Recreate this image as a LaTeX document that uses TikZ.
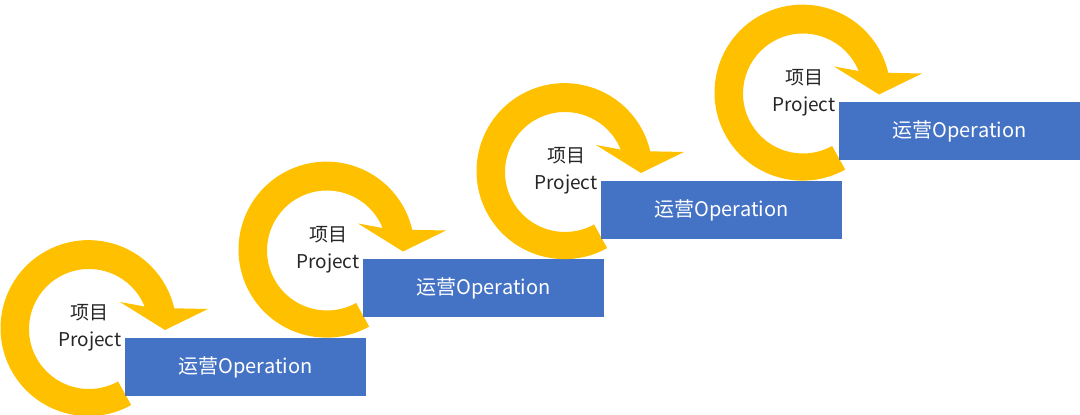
\documentclass[tikz,border=0pt]{standalone}
\usepackage{fontspec}
\setmainfont{Noto Sans CJK SC}
\usepackage{tikz}
\definecolor{ringyellow}{HTML}{FFC000}
\definecolor{opblue}{HTML}{4472C4}

\begin{document}
\begin{tikzpicture}[x=0.5pt,y=0.5pt,
   ring/.style={fill=ringyellow,draw=none},
   projtext/.style={align=center,text=black!85,font=\fontsize{9.5}{13.5}\selectfont},
   opbox/.style={fill=opblue,draw=none,minimum width=120.5pt,minimum height=29pt,inner sep=0pt,text=white,font=\fontsize{10}{12}\selectfont}]
\useasboundingbox (0,0) rectangle (1080,415);
\foreach \i in {0,1,2,3} {
   \begin{scope}[shift={(89+238*\i,86+78.5*\i)}]
   % circular arrow
   \fill[ring] (-61:87) arc[start angle=-61,end angle=-347,radius=88]
      -- (119,20) -- (76,-1) -- (31,27) -- (22:60)
      arc[start angle=22,end angle=299,radius=60] -- cycle;
   \node[projtext] (proj\i) at (1,1) {项目\\Project};
   \node[opbox] (op\i) at (156.5,-38) {\raisebox{-1pt}{运营Operation}};
   \end{scope}
}
\end{tikzpicture}
\end{document}
